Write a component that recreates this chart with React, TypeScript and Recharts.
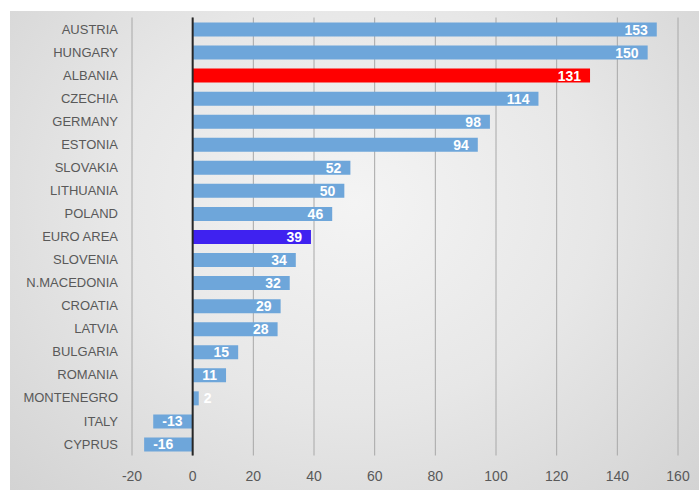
import React from "react";
import { BarChart, Bar, XAxis, YAxis, CartesianGrid, ReferenceLine, Cell, LabelList } from "recharts";

const countries = ["AUSTRIA", "HUNGARY", "ALBANIA", "CZECHIA", "GERMANY", "ESTONIA", "SLOVAKIA", "LITHUANIA", "POLAND", "EURO AREA", "SLOVENIA", "N.MACEDONIA", "CROATIA", "LATVIA", "BULGARIA", "ROMANIA", "MONTENEGRO", "ITALY", "CYPRUS"];
const values = [153, 150, 131, 114, 98, 94, 52, 50, 46, 39, 34, 32, 29, 28, 15, 11, 2, -13, -16];
const xTicks = [-20, 0, 20, 40, 60, 80, 100, 120, 140, 160];

const BLUE = "#6ea6da";
const RED = "#ff0000";
const PURPLE = "#3f22f0";
const colorFor = (name: string) => (name === "ALBANIA" ? RED : name === "EURO AREA" ? PURPLE : BLUE);

const data = countries.map((c, i) => ({ name: c, value: values[i] }));

const FONT = "'Liberation Sans', Arial, sans-serif";

const ValueLabel = (props: any) => {
  const { x, y, width, height, value } = props;
  const left = Math.min(x, x + width);
  const right = Math.max(x, x + width);
  const w = right - left;
  const cy = y + height / 2;
  const txt = String(value);
  const textW = txt.length * 8;
  let tx: number;
  let anchor: "start" | "end" = "end";
  if (w < textW + 12) {
    tx = right + 5;
    anchor = "start";
  } else if (value >= 0) {
    tx = right - 9;
    anchor = "end";
  } else {
    tx = left + 9;
    anchor = "start";
  }
  return (
    <text x={tx} y={cy} dy="0.36em" textAnchor={anchor} fill="#ffffff" fontWeight="bold" fontSize={14} fontFamily={FONT}>
      {txt}
    </text>
  );
};

export default function App() {
  return (
    <div style={{ position: "absolute", left: 0, top: 0, width: 699, height: 490, background: "#ffffff" }}>
      <div
        style={{
          position: "absolute",
          left: 10,
          top: 11,
          width: 689,
          height: 479,
          background: "radial-gradient(ellipse at 50% 40%, #f4f4f4 0%, #e7e7e7 50%, #d3d3d3 100%)",
        }}
      />
      <div style={{ position: "absolute", left: 0, top: 0 }}>
        <BarChart
          width={699}
          height={490}
          data={data}
          layout="vertical"
          margin={{ top: 17.5, right: 21, bottom: 4.5, left: 0 }}
          barCategoryGap="40%"
        >
          <CartesianGrid horizontal={false} vertical={true} stroke="#a8a8a8" strokeWidth={1} />
          <XAxis
            type="number"
            domain={[-20, 160]}
            ticks={xTicks}
            axisLine={false}
            tickLine={false}
            tickMargin={10}
            height={30}
            tick={{ fill: "#595959", fontSize: 14, fontFamily: FONT }}
            interval={0}
          />
          <YAxis
            type="category"
            dataKey="name"
            width={132}
            axisLine={false}
            tickLine={false}
            tickMargin={8}
            interval={0}
            tick={{ fill: "#595959", fontSize: 13, fontFamily: FONT }}
          />
          <Bar dataKey="value" isAnimationActive={false} barSize={14}>
            {data.map((d) => (
              <Cell key={d.name} fill={colorFor(d.name)} />
            ))}
            <LabelList dataKey="value" content={ValueLabel} />
          </Bar>
          <ReferenceLine x={0} stroke="#262626" strokeWidth={2} />
        </BarChart>
      </div>
    </div>
  );
}
